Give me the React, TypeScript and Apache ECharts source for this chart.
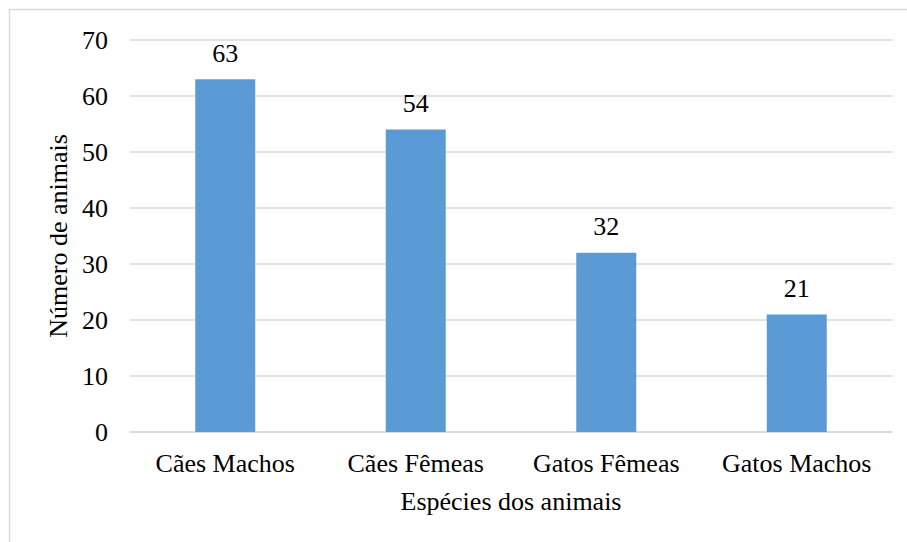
import React, { useEffect, useRef } from "react";
import * as echarts from "echarts";

const categories = ["Cães Machos", "Cães Fêmeas", "Gatos Fêmeas", "Gatos Machos"];
const values = [63, 54, 32, 21];
const yTicks = { min: 0, max: 70, interval: 10 };
const xAxisTitle = "Espécies dos animais";
const yAxisTitle = "Número de animais";

const FONT = "Liberation Serif";

export default function App() {
  const ref = useRef<HTMLDivElement>(null);
  useEffect(() => {
    if (!ref.current) return;
    const chart = echarts.init(ref.current, undefined, { renderer: "svg" });
    chart.setOption({
      animation: false,
      backgroundColor: "#ffffff",
      textStyle: { fontFamily: FONT, color: "#000" },
      graphic: [
        {
          type: "rect",
          shape: { x: 9.5, y: 9.5, width: 1000, height: 1000 },
          style: { fill: "none", stroke: "#d9d9d9", lineWidth: 1.5 },
          silent: true,
        },
      ],
      grid: { left: 130, right: 15, top: 40, bottom: 110, containLabel: false },
      xAxis: {
        type: "category",
        data: categories,
        name: xAxisTitle,
        nameLocation: "middle",
        nameGap: 56,
        nameTextStyle: { fontFamily: FONT, fontSize: 26, color: "#000" },
        axisLine: { show: true, lineStyle: { color: "#d9d9d9", width: 1.5 } },
        axisTick: { show: false },
        axisLabel: { fontFamily: FONT, fontSize: 26, color: "#000", margin: 18, interval: 0 },
      },
      yAxis: {
        type: "value",
        min: yTicks.min,
        max: yTicks.max,
        interval: yTicks.interval,
        name: yAxisTitle,
        nameLocation: "middle",
        nameGap: 56,
        nameTextStyle: { fontFamily: FONT, fontSize: 26, color: "#000" },
        axisLine: { show: false },
        axisTick: { show: false },
        axisLabel: { fontFamily: FONT, fontSize: 26, color: "#000", margin: 22 },
        splitLine: { show: true, lineStyle: { color: "#d9d9d9", width: 1.5 } },
      },
      series: [
        {
          type: "bar",
          data: values,
          barWidth: 60,
          itemStyle: { color: "#5b9bd5" },
          label: {
            show: true,
            position: "top",
            distance: 13,
            fontFamily: FONT,
            fontSize: 26,
            color: "#000",
          },
        },
      ],
    });
    return () => chart.dispose();
  }, []);
  return (
    <div
      ref={ref}
      style={{ position: "fixed", left: 0, top: 0, width: 907, height: 542 }}
    />
  );
}
